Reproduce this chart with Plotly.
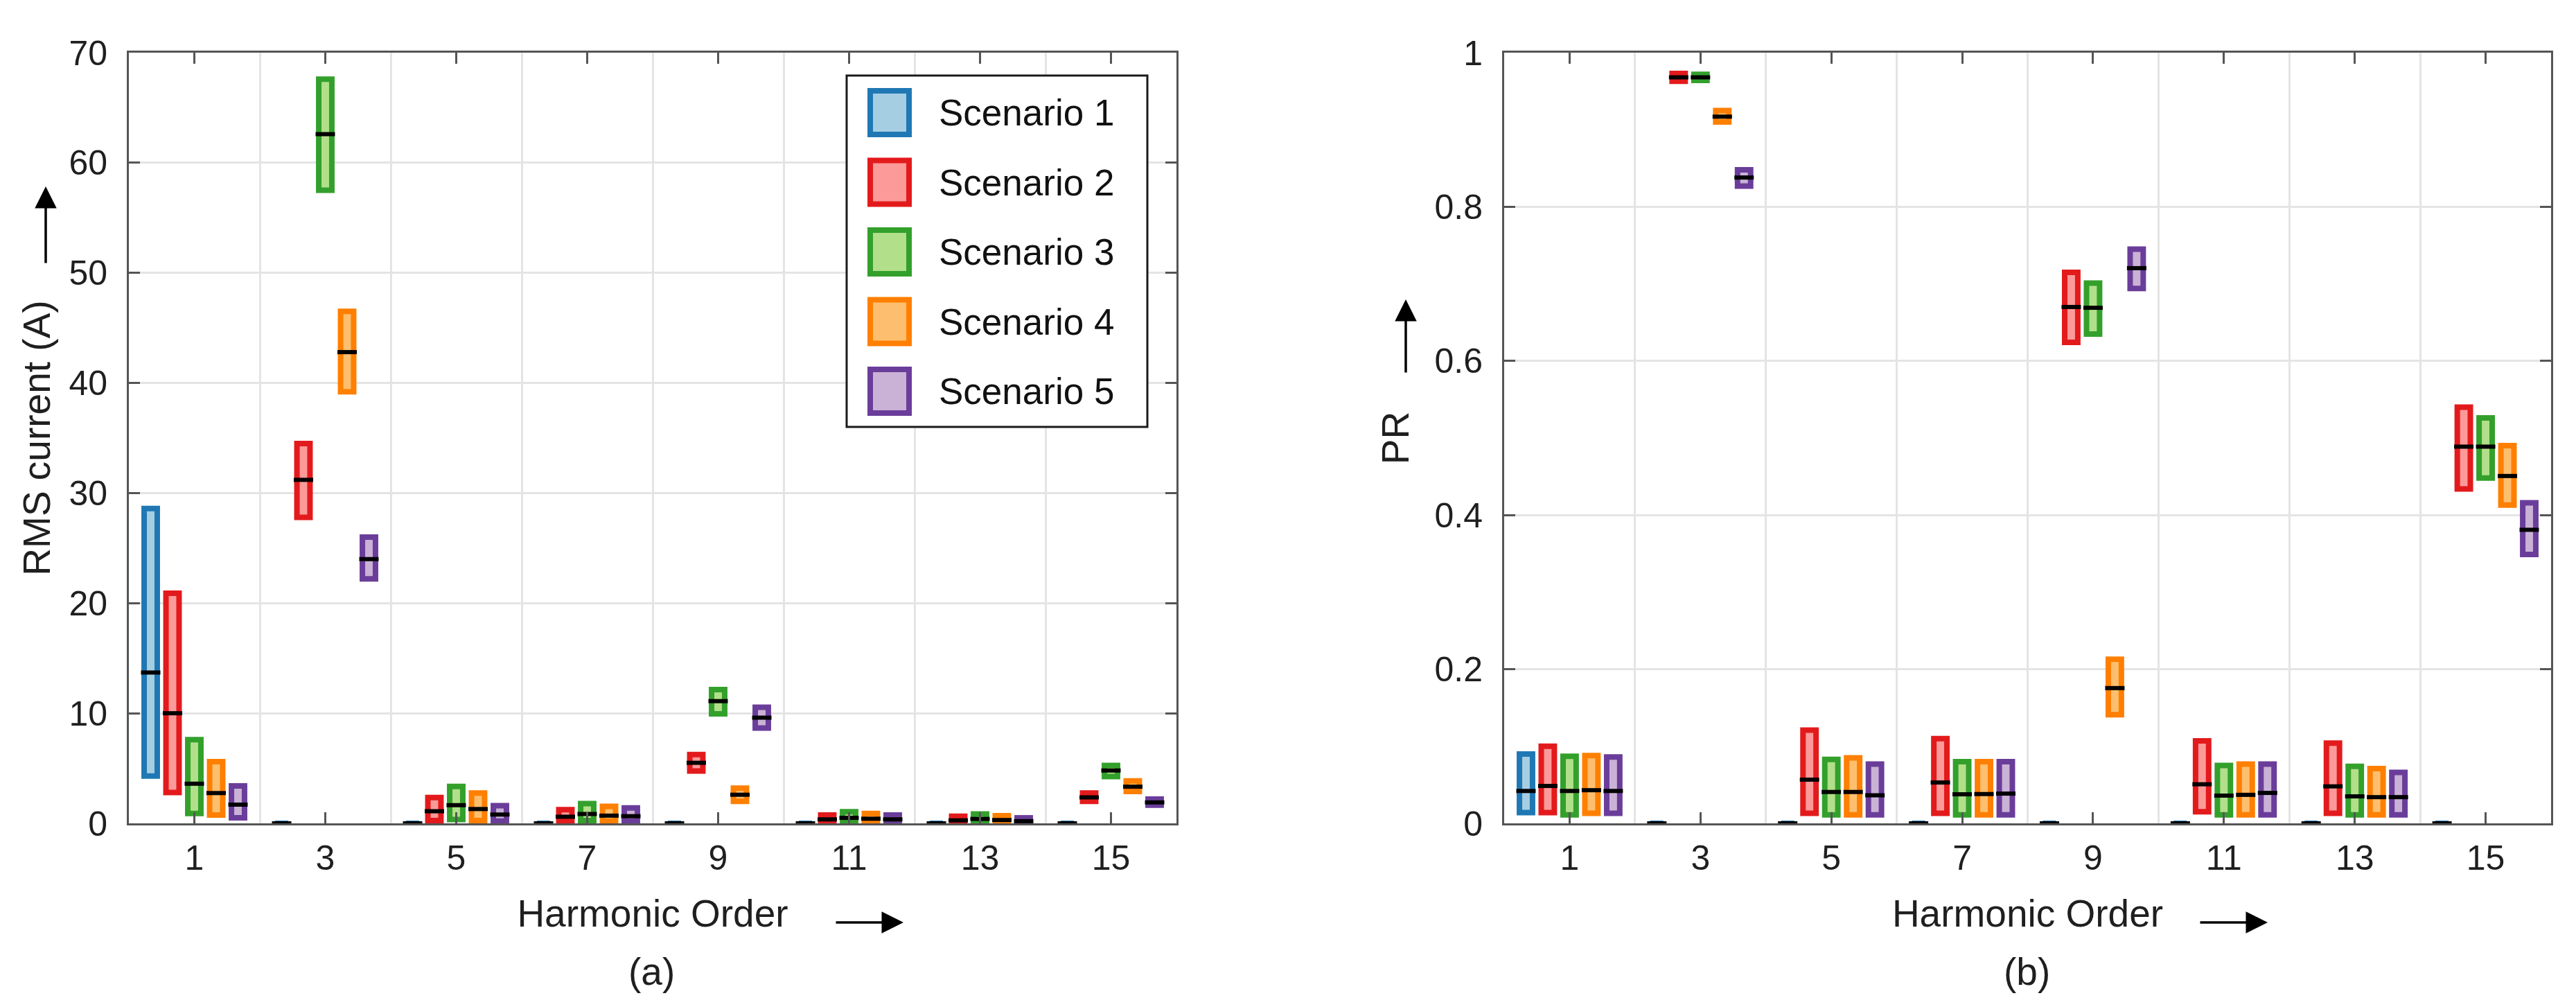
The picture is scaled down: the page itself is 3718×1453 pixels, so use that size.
import plotly.graph_objects as go

# ---------------- data ----------------
harmonics = [1, 3, 5, 7, 9, 11, 13, 15]
tick_labels = ["1", "3", "5", "7", "9", "11", "13", "15"]
scenarios = ["Scenario 1", "Scenario 2", "Scenario 3", "Scenario 4", "Scenario 5"]
edge_colors = ["#1f78b4", "#e31a1c", "#33a02c", "#ff7f00", "#6a3d9a"]
fill_colors = ["#a6cee3", "#fb9a99", "#b2df8a", "#fdbf6f", "#cab2d6"]

# (a) RMS current (A): min / median / max per scenario and harmonic
rms_low = [
    [4.3, 0, 0, 0, 0, 0, 0, 0],
    [2.8, 27.8, 0.25, 0.2, 4.75, 0.15, 0.1, 2.0],
    [0.9, 57.5, 0.35, 0.25, 9.95, 0.2, 0.15, 4.25],
    [0.75, 39.2, 0.25, 0.2, 2.0, 0.15, 0.1, 2.9],
    [0.5, 22.2, 0.2, 0.2, 8.65, 0.12, 0.08, 1.65],
]
rms_med = [
    [13.7, 0, 0, 0, 0, 0, 0, 0],
    [10.0, 31.2, 1.1, 0.6, 5.5, 0.36, 0.27, 2.36],
    [3.6, 62.6, 1.65, 0.85, 11.1, 0.5, 0.4, 4.8],
    [2.75, 42.8, 1.3, 0.7, 2.6, 0.42, 0.3, 3.33],
    [1.7, 24.0, 0.8, 0.65, 9.6, 0.36, 0.2, 1.9],
]
rms_high = [
    [28.6, 0, 0, 0, 0, 0, 0, 0],
    [20.9, 34.5, 2.35, 1.25, 6.25, 0.75, 0.65, 2.75],
    [7.6, 67.6, 3.35, 1.8, 12.15, 1.05, 0.85, 5.25],
    [5.6, 46.5, 2.75, 1.55, 3.2, 0.9, 0.7, 3.85],
    [3.4, 26.0, 1.6, 1.4, 10.55, 0.75, 0.5, 2.2],
]

# (b) PR: min / median / max per scenario and harmonic
pr_low = [
    [0.014, 0, 0, 0, 0, 0, 0, 0],
    [0.014, 0.963, 0.013, 0.013, 0.624, 0.015, 0.013, 0.434],
    [0.011, 0.964, 0.011, 0.011, 0.635, 0.011, 0.011, 0.448],
    [0.013, 0.910, 0.011, 0.011, 0.141, 0.011, 0.011, 0.413],
    [0.013, 0.827, 0.011, 0.011, 0.694, 0.011, 0.011, 0.349],
]
pr_med = [
    [0.042, 0, 0, 0, 0, 0, 0, 0],
    [0.0485, 0.968, 0.0567, 0.053, 0.670, 0.0507, 0.048, 0.4888],
    [0.042, 0.968, 0.0407, 0.0377, 0.669, 0.036, 0.035, 0.4888],
    [0.043, 0.917, 0.0407, 0.038, 0.1755, 0.037, 0.034, 0.4507],
    [0.042, 0.838, 0.0364, 0.0386, 0.7204, 0.0395, 0.034, 0.3809],
]
pr_high = [
    [0.090, 0, 0, 0, 0, 0, 0, 0],
    [0.100, 0.973, 0.121, 0.110, 0.715, 0.107, 0.104, 0.540],
    [0.087, 0.972, 0.083, 0.080, 0.701, 0.075, 0.074, 0.526],
    [0.088, 0.925, 0.085, 0.080, 0.213, 0.077, 0.071, 0.490],
    [0.086, 0.848, 0.077, 0.080, 0.745, 0.077, 0.066, 0.416],
]

rms_ticks = [0, 10, 20, 30, 40, 50, 60, 70]
pr_ticks = [0, 0.2, 0.4, 0.6, 0.8, 1]
pr_tick_labels = ["0", "0.2", "0.4", "0.6", "0.8", "1"]
grid_positions = [2, 4, 6, 8, 10, 12, 14]

# ---------------- styling ----------------
FONT = "Liberation Sans, Arial, sans-serif"
TICK_SIZE = 50
TITLE_SIZE = 55
LEGEND_SIZE = 53
AXIS_COLOR = "#555555"
GRID_COLOR = "#e4e4e4"
TEXT_COLOR = "#1f1f1f"
STEP = 1 / 3       # spacing between scenarios inside a group
BAR_W = 0.2

fig = go.Figure()


def add_panel(lows, meds, highs, xa, ya):
    for i, name in enumerate(scenarios):
        off = (i - 2) * STEP
        xs = [h + off for h in harmonics]
        fig.add_trace(go.Bar(
            x=xs, base=lows[i],
            y=[hi - lo for hi, lo in zip(highs[i], lows[i])],
            width=BAR_W, name=name, showlegend=False,
            marker=dict(color=fill_colors[i],
                        line=dict(color=edge_colors[i], width=8)),
            xaxis=xa, yaxis=ya, hoverinfo="skip",
        ))
    for i, name in enumerate(scenarios):
        off = (i - 2) * STEP
        xs = [h + off for h in harmonics]
        fig.add_trace(go.Scatter(
            x=xs, y=meds[i], mode="markers", name=name + " median",
            showlegend=False, cliponaxis=False,
            marker=dict(symbol="line-ew", size=20,
                        line=dict(width=6, color="black")),
            xaxis=xa, yaxis=ya, hoverinfo="skip",
        ))


add_panel(rms_low, rms_med, rms_high, "x", "y")
add_panel(pr_low, pr_med, pr_high, "x2", "y2")

W, H = 3718, 1453
left_dom = [178 / W, 1690 / W]
right_dom = [2163 / W, 3674 / W]
y_dom = [1 - 1180 / H, 1 - 68 / H]

common = dict(
    showline=True, linecolor=AXIS_COLOR, linewidth=3, mirror="ticks",
    ticks="inside", ticklen=16, tickwidth=3, tickcolor=AXIS_COLOR,
    zeroline=False, automargin=False,
    tickfont=dict(family=FONT, size=TICK_SIZE, color=TEXT_COLOR),
)
xcommon = dict(
    common, range=[0, 16], tickmode="array", tickvals=harmonics,
    ticktext=tick_labels, showgrid=False, ticklabelstandoff=4,
    minor=dict(tickvals=grid_positions, showgrid=True, gridcolor=GRID_COLOR,
               gridwidth=3, ticks=""),
    title=dict(text="Harmonic Order", standoff=34,
               font=dict(family=FONT, size=TITLE_SIZE, color=TEXT_COLOR)),
)
ycommon = dict(common, showgrid=True, gridcolor=GRID_COLOR, gridwidth=3,
               ticklabelstandoff=18)

fig.update_layout(
    width=W, height=H,
    margin=dict(l=0, r=0, t=0, b=0, autoexpand=False),
    paper_bgcolor="white", plot_bgcolor="white",
    barmode="overlay",
    showlegend=False,
    font=dict(family=FONT, color=TEXT_COLOR),
    xaxis=dict(xcommon, domain=left_dom, anchor="y"),
    yaxis=dict(ycommon, domain=y_dom, anchor="x", range=[0, 70],
               tickmode="array", tickvals=rms_ticks,
               title=dict(text="RMS current (A)", standoff=10,
                          font=dict(family=FONT, size=TITLE_SIZE, color=TEXT_COLOR))),
    xaxis2=dict(xcommon, domain=right_dom, anchor="y2"),
    yaxis2=dict(ycommon, domain=y_dom, anchor="x2", range=[0, 1],
                tickmode="array", tickvals=pr_ticks, ticktext=pr_tick_labels,
                title=dict(text="PR", standoff=20,
                           font=dict(family=FONT, size=TITLE_SIZE, color=TEXT_COLOR))),
)

# ---------------- manual legend (large swatches like the original) ----------------
def px(x):
    return x / W


def py(y):
    return 1 - y / H


shapes = [dict(type="rect", xref="paper", yref="paper",
               x0=px(1214), x1=px(1648), y0=py(608), y1=py(101),
               line=dict(color="#1a1a1a", width=3), fillcolor="white", layer="above")]
annotations = []
for i, name in enumerate(scenarios):
    cy = 154.5 + i * 100.5
    shapes.append(dict(type="rect", xref="paper", yref="paper",
                       x0=px(1248), x1=px(1304), y0=py(cy + 31.5), y1=py(cy - 31.5),
                       line=dict(color=edge_colors[i], width=8),
                       fillcolor=fill_colors[i], layer="above"))
    annotations.append(dict(text=name, x=px(1345), y=py(cy), xref="paper", yref="paper",
                            xanchor="left", yanchor="middle", showarrow=False,
                            font=dict(family=FONT, size=LEGEND_SIZE, color="#111111")))

# panel labels
for lbl, cx in (("(a)", 932), ("(b)", 2917)):
    annotations.append(dict(text=lbl, x=px(cx), y=py(1394), xref="paper", yref="paper",
                            xanchor="center", yanchor="middle", showarrow=False,
                            font=dict(family=FONT, size=TITLE_SIZE, color=TEXT_COLOR)))

# direction arrows next to the axis titles
arrow_style = dict(text="", xref="paper", yref="paper", showarrow=True,
                   arrowhead=2, arrowsize=1.8, arrowwidth=3.5, arrowcolor="black",
                   axref="pixel", ayref="pixel")
annotations.append(dict(arrow_style, x=px(58), y=py(261), ax=0, ay=112))
annotations.append(dict(arrow_style, x=px(2021), y=py(424), ax=0, ay=107))
annotations.append(dict(arrow_style, x=px(1296), y=py(1323), ax=-99, ay=0))
annotations.append(dict(arrow_style, x=px(3265), y=py(1323), ax=-99, ay=0))

fig.update_layout(shapes=shapes, annotations=annotations)

fig.write_html("out.html")
